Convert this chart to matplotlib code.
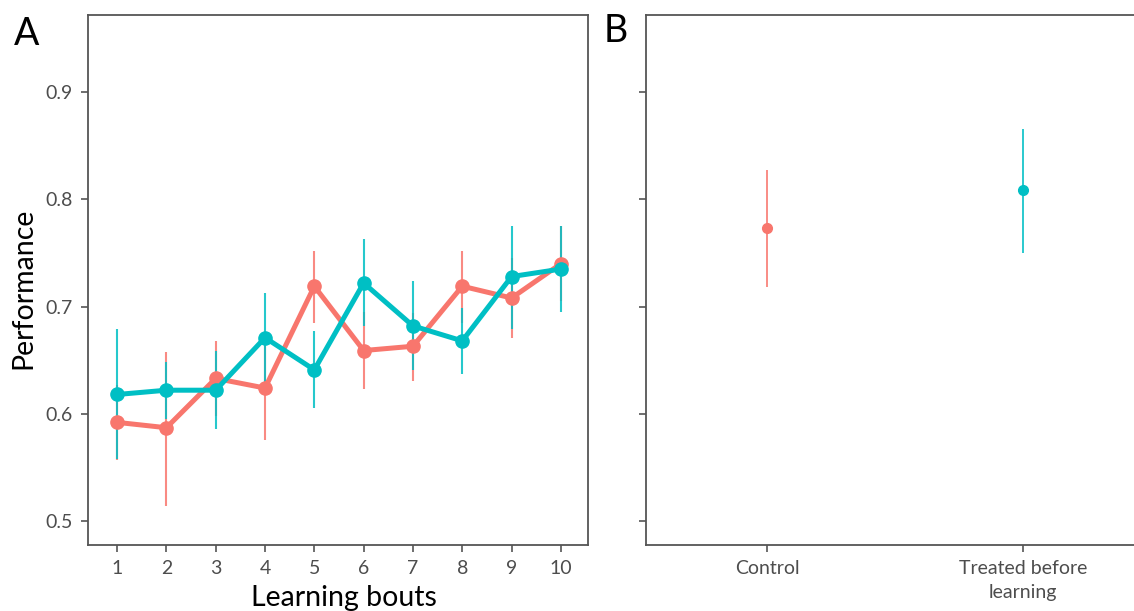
import matplotlib
matplotlib.use("Agg")
import matplotlib.pyplot as plt
import numpy as np

plt.rcParams['font.family'] = ['Lato', 'DejaVu Sans']

# Panel A data
bouts = [1, 2, 3, 4, 5, 6, 7, 8, 9, 10]
control_mean = [0.592, 0.587, 0.633, 0.624, 0.719, 0.659, 0.663, 0.719, 0.708, 0.740]
control_lo   = [0.557, 0.514, 0.598, 0.576, 0.685, 0.623, 0.631, 0.685, 0.671, 0.705]
control_hi   = [0.627, 0.658, 0.668, 0.672, 0.752, 0.695, 0.694, 0.752, 0.745, 0.775]
treated_mean = [0.618, 0.622, 0.622, 0.671, 0.641, 0.722, 0.682, 0.668, 0.728, 0.735]
treated_lo   = [0.558, 0.595, 0.586, 0.628, 0.605, 0.682, 0.641, 0.637, 0.679, 0.695]
treated_hi   = [0.679, 0.648, 0.659, 0.713, 0.677, 0.763, 0.724, 0.699, 0.775, 0.775]

# Panel B data
groups = ["Control", "Treated before\nlearning"]
group_mean = [0.773, 0.809]
group_lo = [0.718, 0.750]
group_hi = [0.827, 0.866]

yticks = [0.5, 0.6, 0.7, 0.8, 0.9]

RED = "#F8766D"
TEAL = "#00BFC4"
SPINE = "#555555"
TICKC = "#4D4D4D"

fig = plt.figure(figsize=(11.34, 6.11), dpi=100)
W, H = 1134, 611
axA = fig.add_axes([88 / W, 1 - 545 / H, 500 / W, 530 / H])
axB = fig.add_axes([646 / W, 1 - 545 / H, 498 / W, 530 / H])

ylim = (0.4776, 0.972)

# Panel A
for mean, lo, hi, col in [(control_mean, control_lo, control_hi, RED),
                           (treated_mean, treated_lo, treated_hi, TEAL)]:
    axA.vlines(bouts, lo, hi, color=col, lw=1.5, alpha=0.85, zorder=2)
for mean, col in [(control_mean, RED), (treated_mean, TEAL)]:
    axA.plot(bouts, mean, color=col, lw=3.6, marker='o', markersize=9.5,
             zorder=3, solid_capstyle='round', solid_joinstyle='round')

axA.set_xlim(0.41, 10.55)
axA.set_ylim(*ylim)
axA.set_xticks(bouts)
axA.set_xticklabels([str(b) for b in bouts])
axA.set_yticks(yticks)
axA.set_yticklabels([f"{t:.1f}" for t in yticks])
axA.set_xlabel("Learning bouts", fontsize=20.5, color="black")
axA.xaxis.set_label_coords(0.512, -0.075)
axA.set_ylabel("Performance", fontsize=20.5, color="black")
axA.yaxis.set_label_coords(-0.104, 0.485)

# Panel B
xB = [1, 2]
colsB = [RED, TEAL]
for x, m, lo, hi, c in zip(xB, group_mean, group_lo, group_hi, colsB):
    axB.vlines(x, lo, hi, color=c, lw=1.3, alpha=0.9, zorder=2)
    axB.plot([x], [m], 'o', color=c, markersize=7, zorder=3)
axB.set_xlim(0.527, 2.473)
axB.set_ylim(*ylim)
axB.set_xticks(xB)
axB.set_xticklabels(groups, linespacing=1.45)
axB.set_yticks(yticks)
axB.set_yticklabels([])
axB.spines['right'].set_visible(False)

for ax in (axA, axB):
    for s in ax.spines.values():
        s.set_color(SPINE)
        s.set_linewidth(1.3)
    ax.tick_params(axis='both', colors=SPINE, labelcolor=TICKC, labelsize=14,
                   length=5, width=1.2, pad=6)

fig.text(14 / W, 1 - 45 / H, "A", fontsize=27, color="black", va="baseline", ha="left")
fig.text(604 / W, 1 - 42 / H, "B", fontsize=27, color="black", va="baseline", ha="left")

fig.savefig("out.png", dpi=100)
